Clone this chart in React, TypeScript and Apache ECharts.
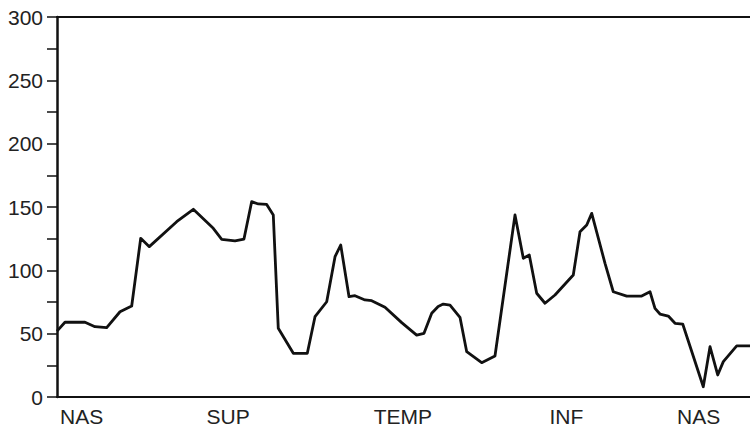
import React, { useEffect, useRef } from "react";
import * as echarts from "echarts";

// Positions along the recording (0–100) and measured values
const xPos = [
  0, 1.15, 4.04, 5.48, 7.17, 9.09, 10.78, 12.08, 13.32, 17.27,
  19.67, 22.55, 23.77, 25.69, 26.98, 28.09, 29.05, 30.26, 31.21, 31.93,
  34.1, 36.12, 37.23, 38.92, 40.12, 40.94, 42.14, 43.0, 44.44, 45.41,
  47.33, 49.74, 51.9, 52.96, 54.07, 55.0, 55.74, 56.71, 58.15, 59.12, 61.28,
  63.2, 66.09, 67.29, 68.15, 69.22, 70.42, 71.86, 74.5, 75.47, 76.44,
  77.16, 79.08, 80.27, 82.21, 84.37, 85.57, 86.29, 87.01, 88.21, 89.18,
  90.29, 93.26, 94.23, 95.34, 96.15, 98.08, 100,
];
const values = [
  52, 59, 59, 55.5, 54.7, 67.3, 71.8, 125.3, 118.7, 138.4,
  148.2, 133.2, 124.5, 123.2, 124.7, 154.2, 152.4, 152, 143.7, 54.2,
  34.5, 34.5, 63.4, 75.2, 110.8, 120, 79.2, 80, 76.6, 76,
  70.8, 58.7, 48.9, 50.3, 66.1, 71.5, 73.4, 72.6, 62.9, 35.8, 27.1,
  32.4, 143.7, 109.5, 112.1, 81.9, 74, 80.5, 96.3, 130.5, 135.8,
  145, 105.5, 83.1, 79.7, 79.7, 83.1, 70, 65.5, 63.9, 58.2,
  57.6, 8.1, 39.7, 17.4, 27.9, 40.3, 40.3,
];
const stageLabels = ["NAS", "SUP", "TEMP", "INF", "NAS"];
const stageAt = [3.56, 24.7, 49.9, 73.5, 92.6];
const yTicks = { min: 0, max: 300, step: 25, labelStep: 50 };

export default function App() {
  const ref = useRef<HTMLDivElement>(null);
  useEffect(() => {
    if (!ref.current) return;
    const chart = echarts.init(ref.current, null, { renderer: "svg" });
    const font = "'Liberation Sans', Arial, sans-serif";
    chart.setOption({
      animation: false,
      backgroundColor: "#ffffff",
      grid: { left: 57, right: 0, top: 17, bottom: 37, containLabel: false },
      xAxis: [
        {
          type: "value",
          min: 0,
          max: 100,
          position: "bottom",
          splitLine: { show: false },
          axisTick: { show: false },
          axisLine: { show: true, lineStyle: { color: "#111", width: 2 } },
          axisLabel: {
            customValues: stageAt,
            formatter: (v: number) => {
              const i = stageAt.indexOf(v);
              return i >= 0 ? stageLabels[i] : "";
            },
            color: "#222",
            fontSize: 21,
            fontFamily: font,
            margin: 9,
          },
        },
        {
          type: "value",
          min: 0,
          max: 100,
          position: "top",
          splitLine: { show: false },
          axisTick: { show: false },
          axisLabel: { show: false },
          axisLine: { show: true, lineStyle: { color: "#111", width: 2 } },
        },
      ],
      yAxis: {
        type: "value",
        min: yTicks.min,
        max: yTicks.max,
        interval: yTicks.step,
        splitLine: { show: false },
        axisLine: { show: true, lineStyle: { color: "#111", width: 2.5 } },
        axisTick: { show: true, length: 10, lineStyle: { color: "#111", width: 1.5 } },
        axisLabel: {
          formatter: (v: number) => (v % yTicks.labelStep === 0 ? String(v) : ""),
          color: "#222",
          fontSize: 21,
          fontFamily: font,
          margin: 14,
        },
      },
      series: [
        {
          type: "line",
          data: xPos.map((x, i) => [x, values[i]]),
          showSymbol: false,
          symbol: "none",
          lineStyle: { color: "#111", width: 2.8, join: "round" },
          clip: true,
        },
      ],
    });
    return () => chart.dispose();
  }, []);
  return <div ref={ref} style={{ width: 750, height: 434, position: "absolute", left: 0, top: 0 }} />;
}
